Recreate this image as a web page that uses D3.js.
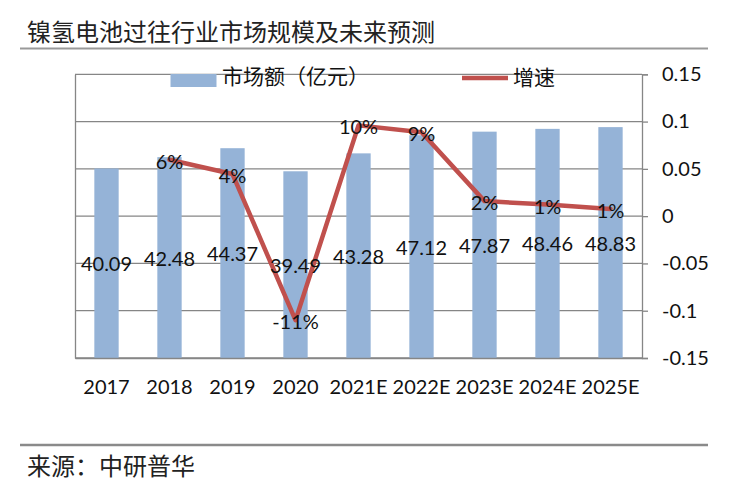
<!DOCTYPE html>
<html>
<head>
<meta charset="utf-8">
<script src="https://cdn.jsdelivr.net/npm/d3@7"></script>
<style>
  html, body { margin: 0; padding: 0; background: #fff; }
  svg { display: block; }
</style>
</head>
<body>
<svg id="chart" width="733" height="492"></svg>
<script>
// ---- data ----
const categories = ["2017", "2018", "2019", "2020", "2021E", "2022E", "2023E", "2024E", "2025E"];
const marketValues = [40.09, 42.48, 44.37, 39.49, 43.28, 47.12, 47.87, 48.46, 48.83];
const growthCategories = ["2018", "2019", "2020", "2021E", "2022E", "2023E", "2024E", "2025E"];
const growthValues = [0.0596, 0.0445, -0.11, 0.096, 0.0887, 0.0159, 0.0123, 0.0076];
const growthLabels = ["6%", "4%", "-11%", "10%", "9%", "2%", "1%", "1%"];
const rightTicks = [0.15, 0.1, 0.05, 0, -0.05, -0.1, -0.15];
const rightTickLabels = ["0.15", "0.1", "0.05", "0", "-0.05", "-0.1", "-0.15"];
const titleText = "镍氢电池过往行业市场规模及未来预测";
const sourceText = "来源：中研普华";
const legendBar = "市场额（亿元）";
const legendLine = "增速";

// ---- layout ----
const svg = d3.select("#chart");
const L = 75, R = 642, T = 74.3, B = 358;
const latin = "Lato, 'Liberation Sans', sans-serif";
const cjk = "'Noto Sans CJK SC', 'Noto Sans', sans-serif";
const barColor = "#95B3D7", lineColor = "#C0504D", gridColor = "#868686";

const x = d3.scaleBand().domain(categories).range([L, R]).paddingInner(0).paddingOuter(0);
const yL = d3.scaleLinear().domain([0, 60]).range([B, T]);
const yR = d3.scaleLinear().domain([-0.15, 0.15]).range([B, T]);
const barW = x.bandwidth() * 0.386;
const cx = d => x(d) + x.bandwidth() / 2;

// title & frame lines
svg.append("text").attr("x", 27).attr("y", 30).attr("dominant-baseline", "central")
  .attr("font-family", cjk).attr("font-size", 24).attr("fill", "#222").text(titleText);
svg.append("line").attr("x1", 20).attr("x2", 708).attr("y1", 48.5).attr("y2", 48.5)
  .attr("stroke", "#999").attr("stroke-width", 2);
svg.append("line").attr("x1", 20).attr("x2", 708).attr("y1", 445).attr("y2", 445)
  .attr("stroke", "#8a8a8a").attr("stroke-width", 2.5);
svg.append("text").attr("x", 27).attr("y", 464).attr("dominant-baseline", "central")
  .attr("font-family", cjk).attr("font-size", 24).attr("fill", "#222").text(sourceText);

// gridlines
svg.append("g").selectAll("line").data(rightTicks).join("line")
  .attr("x1", L).attr("x2", R)
  .attr("y1", d => yR(d)).attr("y2", d => yR(d))
  .attr("stroke", gridColor).attr("stroke-width", 1.3);

// bars
svg.append("g").selectAll("rect").data(marketValues).join("rect")
  .attr("x", (d, i) => cx(categories[i]) - barW / 2)
  .attr("width", barW)
  .attr("y", d => yL(d))
  .attr("height", d => yL(0) - yL(d))
  .attr("fill", barColor);

// left axis (line only, no labels)
const gL = svg.append("g").attr("transform", `translate(${L},0)`)
  .call(d3.axisLeft(yL).tickValues([]).tickSize(0));
gL.select(".domain").attr("stroke", gridColor).attr("stroke-width", 1.3);

// right axis
const gR = svg.append("g").attr("transform", `translate(${R},0)`)
  .call(d3.axisRight(yR).tickValues(rightTicks).tickSize(6).tickPadding(14)
    .tickFormat((d, i) => rightTickLabels[i]));
gR.select(".domain").attr("stroke", gridColor).attr("stroke-width", 1.3);
gR.selectAll(".tick line").attr("stroke", gridColor).attr("stroke-width", 1.3);
gR.selectAll(".tick text").attr("font-family", latin).attr("font-size", 20).attr("fill", "#111");

// bottom axis
const gB = svg.append("g").attr("transform", `translate(0,${B})`)
  .call(d3.axisBottom(x).tickSize(0).tickPadding(22));
gB.select(".domain").attr("stroke", gridColor).attr("stroke-width", 1.3);
gB.selectAll(".tick text").attr("font-family", latin).attr("font-size", 20).attr("fill", "#111");

// growth line
const line = d3.line().x((d, i) => cx(growthCategories[i])).y(d => yR(d));
svg.append("path").datum(growthValues).attr("d", line)
  .attr("fill", "none").attr("stroke", lineColor).attr("stroke-width", 4.5)
  .attr("stroke-linejoin", "round").attr("stroke-linecap", "round");

// bar labels (center of bar)
svg.append("g").selectAll("text").data(marketValues).join("text")
  .attr("x", (d, i) => cx(categories[i]))
  .attr("y", d => (yL(d) + yL(0)) / 2)
  .attr("text-anchor", "middle").attr("dominant-baseline", "central")
  .attr("font-family", latin).attr("font-size", 20).attr("fill", "#111")
  .text(d => d.toFixed(2));

// growth labels
svg.append("g").selectAll("text").data(growthValues).join("text")
  .attr("x", (d, i) => cx(growthCategories[i]))
  .attr("y", d => yR(d) + 1)
  .attr("text-anchor", "middle").attr("dominant-baseline", "central")
  .attr("font-family", latin).attr("font-size", 20).attr("fill", "#111")
  .text((d, i) => growthLabels[i]);

// legend
svg.append("rect").attr("x", 170.5).attr("y", 74).attr("width", 46).attr("height", 13).attr("fill", barColor);
svg.append("text").attr("x", 222).attr("y", 75).attr("dominant-baseline", "central")
  .attr("font-family", cjk).attr("font-size", 21).attr("fill", "#111").text(legendBar);
svg.append("line").attr("x1", 462).attr("x2", 508).attr("y1", 78).attr("y2", 78)
  .attr("stroke", lineColor).attr("stroke-width", 4.5);
svg.append("text").attr("x", 513).attr("y", 76).attr("dominant-baseline", "central")
  .attr("font-family", cjk).attr("font-size", 21).attr("fill", "#111").text(legendLine);
</script>
</body>
</html>
